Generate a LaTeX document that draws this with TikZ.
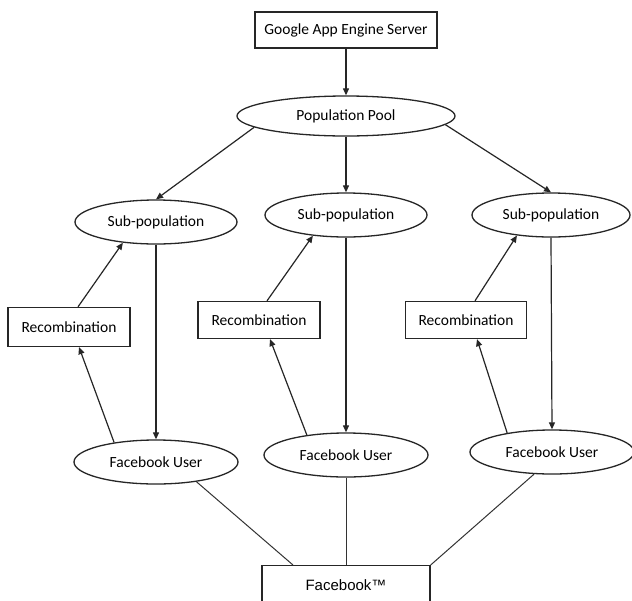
\documentclass[tikz,border=0pt]{standalone}
\usepackage{fontspec}
\setmainfont{Carlito}
\newfontfamily\arialfont{Liberation Sans}
\usetikzlibrary{shapes.geometric,arrows.meta,calc}
\begin{document}
\begin{tikzpicture}[x=1pt,y=-1pt,
  box/.style={draw=black!85,line width=1.3pt,rectangle,inner sep=0pt,font=\fontsize{15.5}{18}\selectfont},
  oval/.style={draw=black!85,line width=1.3pt,ellipse,inner sep=0pt,minimum width=164pt,minimum height=44pt,font=\fontsize{15.5}{18}\selectfont},
  arr/.style={draw=black!85,line width=1.2pt,-{Triangle[length=7pt,width=6pt]}},
  link/.style={draw=black!80,line width=1pt}]
\useasboundingbox[fill=white] (0,0) rectangle (632,600);
% nodes
\node[box,minimum width=182pt,minimum height=36pt] (gae) at (346,30) {Google App Engine Server};
\node[oval,minimum width=218pt,minimum height=40pt] (pool) at (346,116) {Population Pool};
\node[oval,minimum width=162pt] (sp1) at (156,222) {Sub-population};
\node[oval,minimum width=162pt] (sp2) at (346,215) {Sub-population};
\node[oval,minimum width=158pt] (sp3) at (551,215) {Sub-population};
\node[box,minimum width=122pt,minimum height=39pt] (rc1) at (69,327) {Recombination};
\node[box,minimum width=122pt,minimum height=37pt] (rc2) at (259,320) {Recombination};
\node[box,minimum width=121pt,minimum height=37pt] (rc3) at (466,320) {Recombination};
\node[oval] (fu1) at (156,462) {Facebook User};
\node[oval] (fu2) at (346,455) {Facebook User};
\node[oval] (fu3) at (552,452) {Facebook User};
\node[box,minimum width=168pt,minimum height=44pt,anchor=north,font=\arialfont\fontsize{15}{18}\selectfont,text depth=0pt] (fb) at (346,565) {\raisebox{6pt}{Facebook™}};
% connectors
\draw[arr] (gae.south) -- (pool.north);
\draw[arr] (pool.187) -- (sp1.north);
\draw[arr] (pool.south) -- (sp2.north);
\draw[arr] (pool.355) -- (sp3.north);
\draw[arr] (sp1.south) -- (fu1.north);
\draw[arr] (sp2.south) -- (fu2.north);
\draw[arr] (sp3.south) -- (fu3.north);
\draw[arr] ([xshift=9pt]rc1.north) -- (sp1.212);
\draw[arr] ([xshift=8pt]rc2.north) -- (sp2.212);
\draw[arr] ([xshift=9pt]rc3.north) -- (sp3.211);
\draw[arr] (fu1.155) -- ([xshift=10pt]rc1.south);
\draw[arr] (fu2.153) -- ([xshift=11pt]rc2.south);
\draw[arr] (fu3.157) -- ([xshift=11pt]rc3.south);
\draw[link] (fu1.334) -- ([xshift=-53pt]fb.north);
\draw[link] (fu2.south) -- (fb.north);
\draw[link] (fu3.231) -- (fb.north east);
\end{tikzpicture}
\end{document}
